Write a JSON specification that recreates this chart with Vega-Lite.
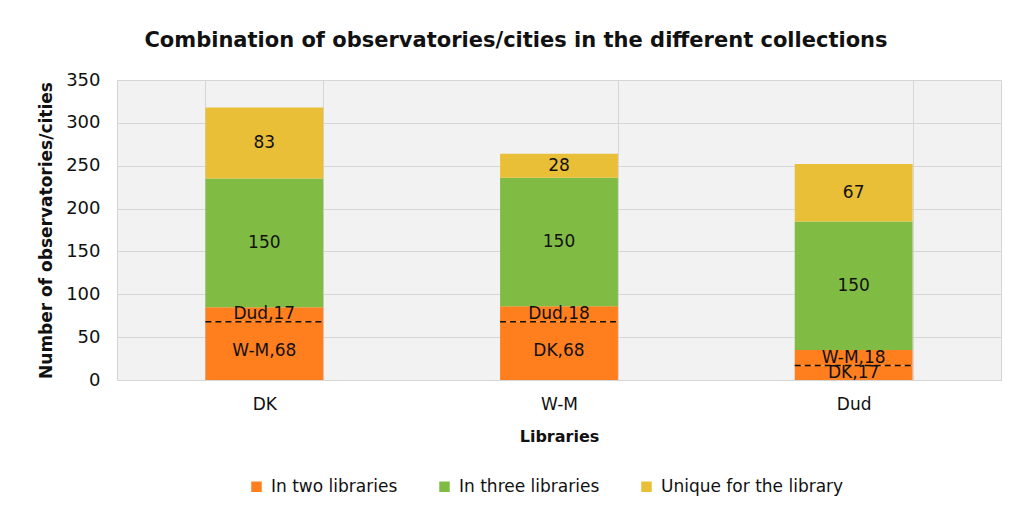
{
  "$schema": "https://vega.github.io/schema/vega-lite/v6.json",
  "autosize": {"type": "none"},
  "width": 884,
  "height": 300,
  "padding": {"left": 117, "top": 80, "right": 11, "bottom": 145},
  "background": "white",
  "title": {
    "text": "Combination of observatories/cities in the different collections",
    "font": "DejaVu Sans",
    "fontSize": 21,
    "fontWeight": "bold",
    "color": "#111111",
    "anchor": "middle",
    "frame": "group",
    "dx": -43,
    "offset": 20
  },
  "config": {
    "font": "DejaVu Sans",
    "view": {"fill": "#f2f2f2", "stroke": "#d4d4d4"},
    "axis": {
      "labelFont": "DejaVu Sans",
      "labelFontSize": 17,
      "labelColor": "#111111",
      "titleFont": "DejaVu Sans",
      "titleFontSize": 16,
      "titleFontWeight": "bold",
      "titleColor": "#111111",
      "domain": false,
      "ticks": false,
      "gridColor": "#d6d6d6",
      "gridWidth": 1
    },
    "legend": {
      "labelFont": "DejaVu Sans",
      "labelFontSize": 17,
      "labelColor": "#111111",
      "labelLimit": 400,
      "symbolType": "square",
      "symbolSize": 110,
      "symbolStrokeWidth": 0,
      "columnPadding": 38,
      "labelOffset": 6
    }
  },
  "data": {
    "values": [
      {"lib": "DK", "seq": 1, "cat": "In two libraries", "value": 68, "label": "W-M,68"},
      {"lib": "DK", "seq": 2, "cat": "In two libraries", "value": 17, "label": "Dud,17"},
      {"lib": "DK", "seq": 3, "cat": "In three libraries", "value": 150, "label": "150"},
      {"lib": "DK", "seq": 4, "cat": "Unique for the library", "value": 83, "label": "83"},
      {"lib": "W-M", "seq": 1, "cat": "In two libraries", "value": 68, "label": "DK,68"},
      {"lib": "W-M", "seq": 2, "cat": "In two libraries", "value": 18, "label": "Dud,18"},
      {"lib": "W-M", "seq": 3, "cat": "In three libraries", "value": 150, "label": "150"},
      {"lib": "W-M", "seq": 4, "cat": "Unique for the library", "value": 28, "label": "28"},
      {"lib": "Dud", "seq": 1, "cat": "In two libraries", "value": 17, "label": "DK,17"},
      {"lib": "Dud", "seq": 2, "cat": "In two libraries", "value": 18, "label": "W-M,18"},
      {"lib": "Dud", "seq": 3, "cat": "In three libraries", "value": 150, "label": "150"},
      {"lib": "Dud", "seq": 4, "cat": "Unique for the library", "value": 67, "label": "67"}
    ]
  },
  "layer": [
    {
      "mark": {"type": "bar"},
      "encoding": {
        "x": {
          "field": "lib", "type": "nominal", "sort": ["DK", "W-M", "Dud"],
          "scale": {"paddingInner": 0.6, "paddingOuter": 0.3},
          "axis": {"title": "Libraries", "labelAngle": 0, "labelPadding": 16, "titlePadding": 16, "grid": true, "tickBand": "extent"}
        },
        "y": {
          "field": "value", "type": "quantitative", "stack": "zero",
          "scale": {"domain": [0, 350], "nice": false},
          "axis": {"title": "Number of observatories/cities", "titleFontSize": 17, "labelFontSize": 18, "values": [0, 50, 100, 150, 200, 250, 300, 350], "labelPadding": 17, "titlePadding": 10, "grid": true}
        },
        "color": {
          "field": "cat", "type": "nominal",
          "scale": {"domain": ["In two libraries", "In three libraries", "Unique for the library"], "range": ["#FF7F1F", "#80BC44", "#EABF38"]},
          "legend": {"title": null, "orient": "none", "direction": "horizontal", "legendX": 131, "legendY": 398}
        },
        "detail": {"field": "seq"},
        "order": {"field": "seq", "type": "quantitative"}
      }
    },
    {
      "mark": {"type": "text", "font": "DejaVu Sans", "fontSize": 17, "color": "#111111", "baseline": "middle"},
      "encoding": {
        "x": {"field": "lib", "type": "nominal", "sort": ["DK", "W-M", "Dud"]},
        "y": {"field": "value", "type": "quantitative", "stack": "zero", "bandPosition": 0.5},
        "detail": {"field": "seq"},
        "order": {"field": "seq", "type": "quantitative"},
        "text": {"field": "label"}
      }
    },
    {
      "transform": [{"filter": "datum.seq == 1"}],
      "mark": {"type": "rule", "color": "#111111", "strokeDash": [6, 4], "strokeWidth": 1.5},
      "encoding": {
        "x": {"field": "lib", "type": "nominal", "sort": ["DK", "W-M", "Dud"], "bandPosition": 0},
        "x2": {"field": "lib", "bandPosition": 1},
        "y": {"field": "value", "type": "quantitative"}
      }
    }
  ]
}
